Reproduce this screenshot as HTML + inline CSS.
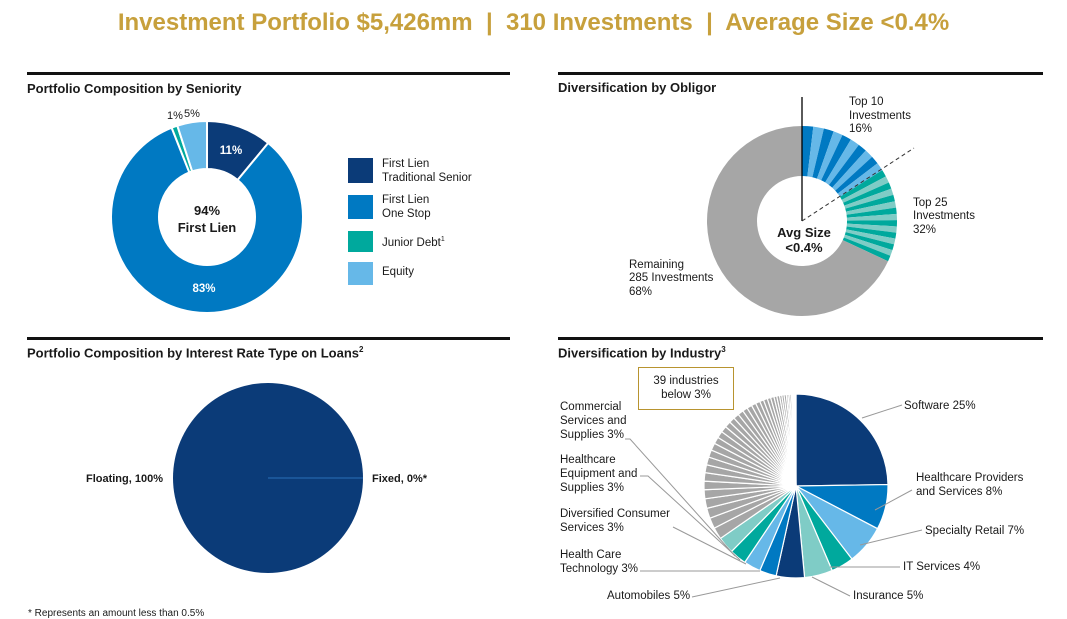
<!DOCTYPE html>
<html><head><meta charset="utf-8"><style>
body{margin:0;width:1067px;height:614px;overflow:hidden;background:#fff;font-family:"Liberation Sans",Arial,sans-serif;position:relative}
.t{position:absolute;white-space:nowrap;color:#1a1a1a}
.rule{position:absolute;height:3px;background:#111}
.h{font-weight:bold;font-size:13px}
.s{font-size:11.5px;line-height:13.5px}
.sw{position:absolute;width:25px}
</style></head><body>
<div class="t" style="left:0;width:1067px;text-align:center;top:9px;font-size:24px;font-weight:bold;color:#C7A03C">Investment Portfolio $5,426mm &nbsp;|&nbsp; 310 Investments &nbsp;|&nbsp; Average Size &lt;0.4%</div>
<div class="rule" style="left:27px;top:72px;width:483px"></div>
<div class="rule" style="left:558px;top:72px;width:485px"></div>
<div class="rule" style="left:27px;top:337px;width:483px"></div>
<div class="rule" style="left:558px;top:337px;width:485px"></div>
<div class="t h" style="left:27px;top:81px">Portfolio Composition by Seniority</div>
<div class="t h" style="left:558px;top:80px">Diversification by Obligor</div>
<div class="t h" style="left:27px;top:345px">Portfolio Composition by Interest Rate Type on Loans<sup style="font-size:8px">2</sup></div>
<div class="t h" style="left:558px;top:345px">Diversification by Industry<sup style="font-size:8px">3</sup></div>

<div class="sw" style="left:348px;top:158px;height:25px;background:#0B3B78"></div>
<div class="sw" style="left:348px;top:195px;height:24px;background:#0079C2"></div>
<div class="sw" style="left:348px;top:231px;height:21px;background:#00A99D"></div>
<div class="sw" style="left:348px;top:262px;height:23px;background:#66B8E8"></div>
<div class="t s" style="left:382px;top:158px">First Lien<br>Traditional Senior</div>
<div class="t s" style="left:382px;top:194px">First Lien<br>One Stop</div>
<div class="t s" style="left:382px;top:233px">Junior Debt<sup style="font-size:7px">1</sup></div>
<div class="t s" style="left:382px;top:266px">Equity</div>

<svg id="svg" width="1067" height="614" style="position:absolute;left:0;top:0"></svg>

<div class="t" style="left:638px;top:367px;width:96px;height:43px;border:1px solid #B8942F;text-align:center;font-size:11.5px;line-height:14px;padding-top:6px;box-sizing:border-box">39 industries<br>below 3%</div>
<div class="t" style="left:28px;top:608px;font-size:10px">* Represents an amount less than 0.5%</div>

<script>
const NS="http://www.w3.org/2000/svg";
const svg=document.getElementById('svg');
function mk(tag,attrs,name){const e=document.createElementNS(NS,tag);for(const k in attrs)e.setAttribute(k,attrs[k]);


svg.appendChild(e);return e;}
function pt(cx,cy,r,f){const a=f*2*Math.PI-Math.PI/2;return [cx+r*Math.cos(a),cy+r*Math.sin(a)];}
function arc(cx,cy,ro,ri,f0,f1){const L=(f1-f0)>0.5?1:0;const a=pt(cx,cy,ro,f0),b=pt(cx,cy,ro,f1);
if(ri<=0)return `M${cx},${cy}L${a}A${ro},${ro} 0 ${L} 1 ${b}Z`;
const c=pt(cx,cy,ri,f1),d=pt(cx,cy,ri,f0);return `M${a}A${ro},${ro} 0 ${L} 1 ${b}L${c}A${ri},${ri} 0 ${L} 0 ${d}Z`;}
function pie(cx,cy,ro,ri,vals,cols,names,stroke,sw){const tot=vals.reduce((a,b)=>a+b,0);let acc=0;
vals.forEach((v,i)=>{const f0=acc/tot;acc+=v;const f1=acc/tot;if(f1-f0>=0.9999){mk('circle',{cx,cy,r:ro,fill:cols[i]},names[i]);return;}
mk('path',{d:arc(cx,cy,ro,ri,f0,f1),fill:cols[i],stroke:stroke,'stroke-width':sw},names[i]);});}
function txt(x,y,s,attrs,name){const e=mk('text',Object.assign({x,y,'font-size':11.5,'font-family':'Liberation Sans, Arial, sans-serif',fill:'#1a1a1a'},attrs),name);e.textContent=s;return e;}
const NAVY='#0B3B78',BLUE='#0079C2',TEAL='#00A99D',LTEAL='#7FCCC6',LBLUE='#66B8E8',GRAY='#A6A6A6';

// Seniority
const seniorityCats=['First Lien Traditional Senior','First Lien One Stop','Junior Debt','Equity'];
const seniorityVals=[11,83,1,5];
pie(207,217,96,48,seniorityVals,[NAVY,BLUE,TEAL,LBLUE],['slice-traditional','slice-one-stop','slice-junior-debt','slice-equity'],'#fff',2);
txt(231,154,'11%',{'font-weight':'bold',fill:'#fff','text-anchor':'middle'},'label-11');
txt(204,292,'83%',{'font-weight':'bold',fill:'#fff','text-anchor':'middle'},'label-83');
txt(175,119,'1%',{'text-anchor':'middle','font-size':11},'label-1');
txt(192,117,'5%',{'text-anchor':'middle','font-size':11},'label-5');
txt(207,215,'94%',{'font-weight':'bold','font-size':13,'text-anchor':'middle'},'center-94');
txt(207,232,'First Lien',{'font-weight':'bold','font-size':13,'text-anchor':'middle'},'center-first-lien');

// Obligor
const top10Vals=[1.9,1.8,1.7,1.6,1.6,1.6,1.5,1.5,1.4,1.4];
const next15Vals=[1.2,1.15,1.1,1.1,1.1,1.1,1.05,1.05,1.05,1.05,1.0,1.0,1.0,1.0,1.0];
const remainingVal=[68];
const obVals=top10Vals.concat(next15Vals,remainingVal);
const obCols=obVals.map((v,i)=>i<10?(i%2?LBLUE:BLUE):i<25?(i%2?LTEAL:TEAL):GRAY);
pie(802,221,95,45,obVals,obCols,obVals.map((v,i)=>'obligor-slice-'+i),'none',0);
mk('line',{x1:802,y1:221,x2:802,y2:97,stroke:'#000','stroke-width':1.3},'obligor-divider-top');
mk('line',{x1:802,y1:221,x2:914,y2:148,stroke:'#333','stroke-width':1,'stroke-dasharray':'4,3'},'obligor-divider-dashed');
txt(804,237,'Avg Size',{'font-weight':'bold','font-size':13,'text-anchor':'middle'},'center-avg-size');
txt(804,252,'<0.4%',{'font-weight':'bold','font-size':13,'text-anchor':'middle'},'center-avg-value');
[['Top 10',105],['Investments',119],['16%',132]].forEach((a,i)=>txt(849,a[1],a[0],{},'top10-label-'+i));
[['Top 25',206],['Investments',219],['32%',233]].forEach((a,i)=>txt(913,a[1],a[0],{},'top25-label-'+i));
[['Remaining',268],['285 Investments',281],['68%',295]].forEach((a,i)=>txt(629,a[1],a[0],{},'remaining-label-'+i));

// Interest rate
const rateCats=['Floating','Fixed'];
const rateVals=[100,0];
pie(268,478,95,0,rateVals,[NAVY,NAVY],['slice-floating','slice-fixed'],'none',0);
mk('line',{x1:268,y1:478,x2:363,y2:478,stroke:'#2a6fb8','stroke-width':1},'fixed-line');
txt(163,482,'Floating, 100%',{'font-weight':'bold','text-anchor':'end','font-size':11},'label-floating');
txt(372,482,'Fixed, 0%*',{'font-weight':'bold','font-size':11},'label-fixed');

// Industry
const industryCats=['Software','Healthcare Providers and Services','Specialty Retail','IT Services','Insurance','Automobiles','Health Care Technology','Diversified Consumer Services','Healthcare Equipment and Supplies','Commercial Services and Supplies'];
const industryVals=[25,8,7,4,5,5,3,3,3,3];
const smallVals=[2.1,1.9,1.8,1.7,1.6,1.5,1.5,1.4,1.4,1.3,1.3,1.2,1.2,1.1,1.1,1.0,1.0,1.0,0.9,0.9,0.8,0.8,0.7,0.7,0.6,0.6,0.5,0.5,0.4,0.4,0.4,0.3,0.3,0.3,0.2,0.2,0.2,0.1,0.1];
const indCols=[NAVY,BLUE,LBLUE,TEAL,LTEAL,NAVY,BLUE,LBLUE,TEAL,LTEAL];
pie(796,486,92,0,industryVals.concat(smallVals),indCols.concat(smallVals.map(()=>GRAY)),industryVals.concat(smallVals).map((v,i)=>'industry-slice-'+i),'#fff',1.2);
const lab=[
 [['Software 25%'],904,409,[[862,418],[902,405]]],
 [['Healthcare Providers','and Services 8%'],916,481,[[875,510],[912,490]]],
 [['Specialty Retail 7%'],925,534,[[860,545],[922,530]]],
 [['IT Services 4%'],903,570,[[830,567],[900,567]]],
 [['Insurance 5%'],853,599,[[812,577],[850,596]]],
];
lab.forEach((L,i)=>{L[0].forEach((s,j)=>txt(L[1],L[2]+j*14,s,{},'industry-label-'+i+'-'+j));
mk('polyline',{points:L[3].map(p=>p.join(',')).join(' '),fill:'none',stroke:'#999','stroke-width':1},'industry-leader-'+i);});
const labL=[
 [['Automobiles 5%'],607,599,[[692,597],[780,578]]],
 [['Health Care','Technology 3%'],560,558,[[640,571],[760,571]]],
 [['Diversified Consumer','Services 3%'],560,517,[[673,527],[746,564]]],
 [['Healthcare','Equipment and','Supplies 3%'],560,463,[[640,476],[648,476],[740,560]]],
 [['Commercial','Services and','Supplies 3%'],560,410,[[625,439],[630,439],[735,556]]],
];
labL.forEach((L,i)=>{L[0].forEach((s,j)=>txt(L[1],L[2]+j*14,s,{},'industry-label-l'+i+'-'+j));
mk('polyline',{points:L[3].map(p=>p.join(',')).join(' '),fill:'none',stroke:'#999','stroke-width':1},'industry-leader-l'+i);});
</script>
</body></html>
